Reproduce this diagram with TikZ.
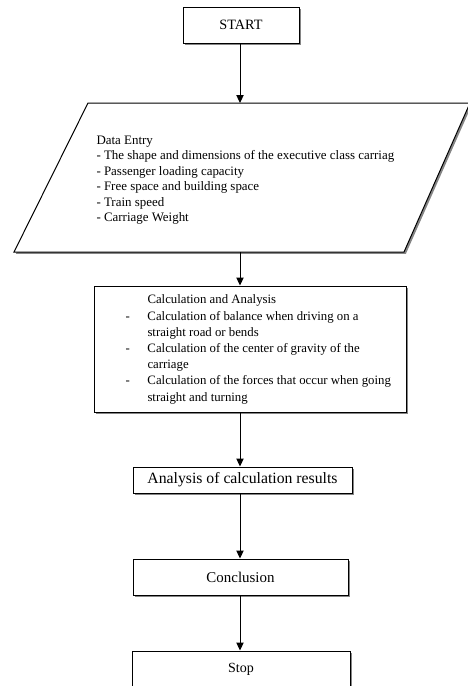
\documentclass[tikz,border=0pt]{standalone}
\usepackage{fontspec}
\setmainfont{Liberation Serif}
\usetikzlibrary{arrows.meta,shadows}

\tikzset{every picture/.style={line width=0.75pt}}
\tikzset{
  boxshadow/.style={drop shadow={shadow xshift=1.4pt,shadow yshift=-1.4pt,fill=black!60,opacity=0.8}},
  flowbox/.style={draw, rectangle, fill=white, inner sep=0pt, boxshadow},
  flowarrow/.style={-{Triangle[length=6pt,width=5.5pt]}},
}

\begin{document}
\begin{tikzpicture}[x=0.75pt,y=0.75pt,yscale=-1,xscale=1]
\useasboundingbox (0,0) rectangle (468,686);
%column of the connectors
\coordinate (axis) at (240,0);

%Shape: Rectangle
\node [flowbox, minimum width=87pt, minimum height=27pt, font=\fontsize{10.7}{12}\selectfont] (start) at (241,25) {START};
%Shape: Parallelogram
\coordinate (entryTL) at (88,103);
\coordinate (entryTR) at (470,103);
\coordinate (entryBR) at (404,252);
\coordinate (entryBL) at (14,252);
\draw [fill=white, boxshadow] (entryTL) -- (entryTR) -- (entryBR) -- (entryBL) -- cycle;
\coordinate (entryTop) at (240,103);
\coordinate (entryBot) at (240,252);
%Shape: Rectangle
\node [flowbox, minimum width=234pt, minimum height=94.5pt] (calc) at (250,349) {};
%Shape: Rectangle
\node [flowbox, minimum width=164.25pt, minimum height=19.5pt, font=\fontsize{11.8}{13}\selectfont] (analysis) at (242.5,480) {Analysis of calculation results};
%Shape: Rectangle
\node [flowbox, minimum width=161.25pt, minimum height=27pt, font=\fontsize{11.2}{13}\selectfont] (conclusion) at (240.5,577) {Conclusion};
%Shape: Rectangle
\node [flowbox, minimum width=163.5pt, minimum height=27pt, font=\fontsize{10.5}{12}\selectfont] (stop) at (241,669) {Stop};

% Text Node
\node [anchor=north west, inner sep=0pt, align=left, font=\fontsize{9.7}{11.55}\selectfont] (entry) at (96,135.5) {Data Entry\\- The shape and dimensions of the executive class carriag\\- Passenger loading capacity\\- Free space and building space\\- Train speed\\- Carriage Weight};
% Text Node
\node [anchor=north west, inner sep=0pt, font=\fontsize{9.6}{12.15}\selectfont] (calctext) at (125,292) {\begin{tabular}{@{}p{16.5pt}@{}l@{}}
 & Calculation and Analysis\\
- & Calculation of balance when driving on a\\
 & straight road or bends\\
- & Calculation of the center of gravity of the\\
 & carriage\\
- & Calculation of the forces that occur when going\\
 & straight and turning
\end{tabular}};

%Straight Lines
\draw [flowarrow] (start.south -| axis) -- (entryTop);
\draw [flowarrow] (entryBot) -- (calc.north -| axis);
\draw [flowarrow] (calc.south -| axis) -- (analysis.north -| axis);
\draw [flowarrow] (analysis.south -| axis) -- (conclusion.north -| axis);
\draw [flowarrow] (conclusion.south -| axis) -- (stop.north -| axis);

\end{tikzpicture}
\end{document}
